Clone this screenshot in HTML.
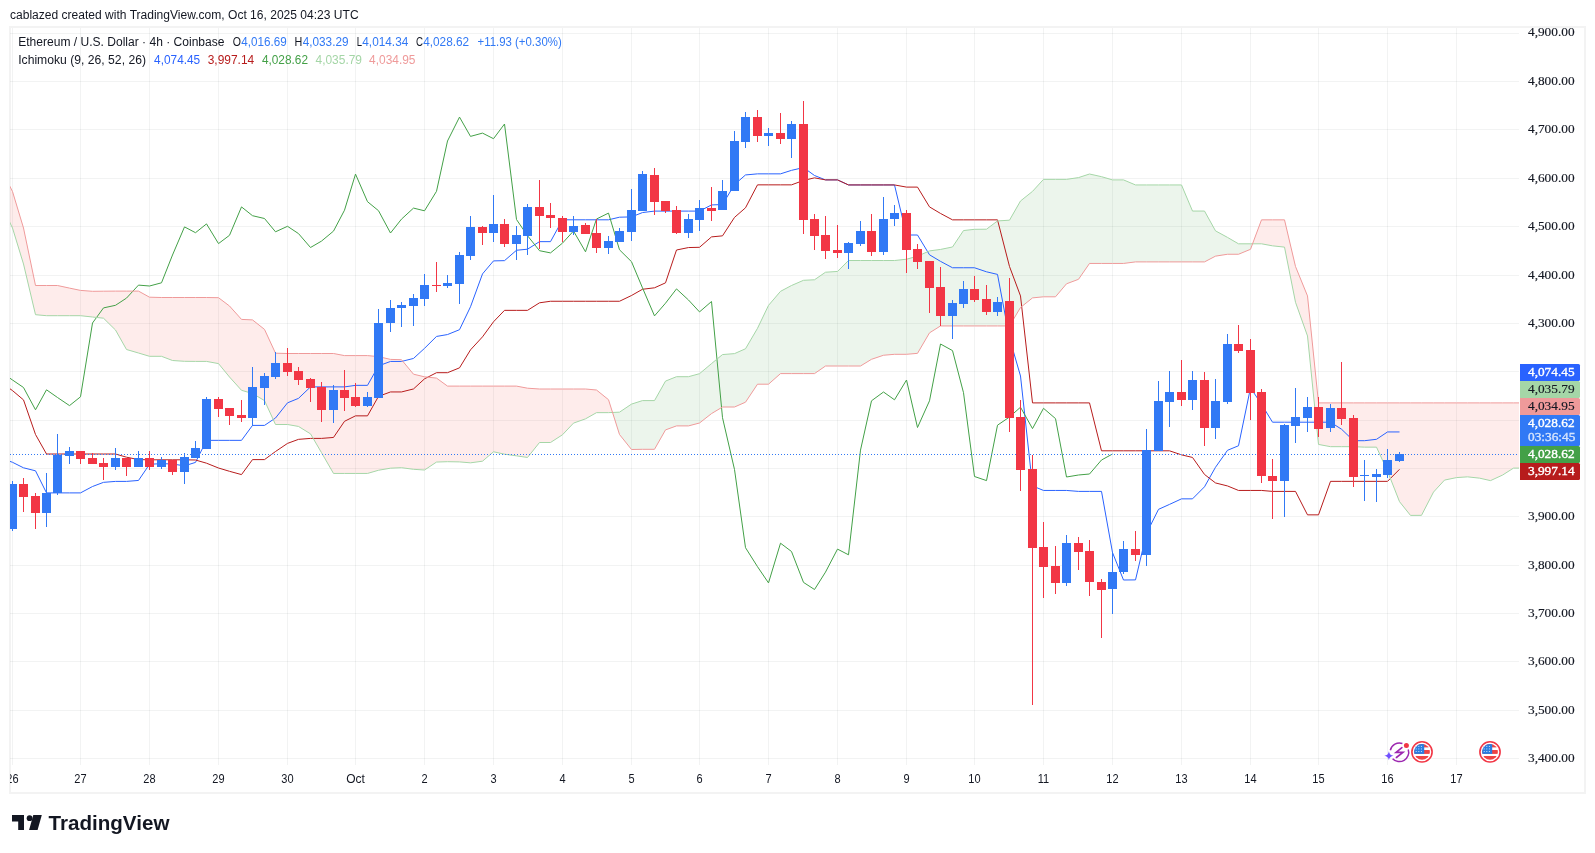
<!DOCTYPE html><html><head><meta charset="utf-8"><style>
html,body{margin:0;padding:0;background:#fff;}
body{width:1595px;height:853px;overflow:hidden;position:relative;font-family:"Liberation Sans",sans-serif;}
svg{position:absolute;left:0;top:0;will-change:transform;}
text{font-family:"Liberation Sans",sans-serif;} text.sf{font-family:"Liberation Serif",serif;}
</style></head><body>
<svg width="1595" height="853" viewBox="0 0 1595 853">
<defs><clipPath id="pane"><rect x="10" y="28" width="1509" height="737"/></clipPath></defs>
<text x="10" y="19" font-size="12" fill="#131722" textLength="348.6" lengthAdjust="spacingAndGlyphs">cablazed created with TradingView.com, Oct 16, 2025 04:23 UTC</text>
<rect x="9" y="26" width="1577" height="2" fill="#f3f3f3"/>
<rect x="9" y="792" width="1577" height="2" fill="#f3f3f3"/>
<rect x="9" y="26" width="2" height="768" fill="#f3f3f3"/>
<rect x="1584" y="26" width="2" height="768" fill="#f3f3f3"/>
<g clip-path="url(#pane)">
<rect x="10" y="33" width="1509" height="1" fill="rgba(42,46,57,0.06)"/>
<rect x="10" y="81" width="1509" height="1" fill="rgba(42,46,57,0.06)"/>
<rect x="10" y="129" width="1509" height="1" fill="rgba(42,46,57,0.06)"/>
<rect x="10" y="178" width="1509" height="1" fill="rgba(42,46,57,0.06)"/>
<rect x="10" y="226" width="1509" height="1" fill="rgba(42,46,57,0.06)"/>
<rect x="10" y="275" width="1509" height="1" fill="rgba(42,46,57,0.06)"/>
<rect x="10" y="323" width="1509" height="1" fill="rgba(42,46,57,0.06)"/>
<rect x="10" y="371" width="1509" height="1" fill="rgba(42,46,57,0.06)"/>
<rect x="10" y="420" width="1509" height="1" fill="rgba(42,46,57,0.06)"/>
<rect x="10" y="468" width="1509" height="1" fill="rgba(42,46,57,0.06)"/>
<rect x="10" y="516" width="1509" height="1" fill="rgba(42,46,57,0.06)"/>
<rect x="10" y="565" width="1509" height="1" fill="rgba(42,46,57,0.06)"/>
<rect x="10" y="613" width="1509" height="1" fill="rgba(42,46,57,0.06)"/>
<rect x="10" y="661" width="1509" height="1" fill="rgba(42,46,57,0.06)"/>
<rect x="10" y="710" width="1509" height="1" fill="rgba(42,46,57,0.06)"/>
<rect x="10" y="758" width="1509" height="1" fill="rgba(42,46,57,0.06)"/>
<rect x="12" y="28" width="1" height="737" fill="rgba(42,46,57,0.06)"/>
<rect x="80" y="28" width="1" height="737" fill="rgba(42,46,57,0.06)"/>
<rect x="149" y="28" width="1" height="737" fill="rgba(42,46,57,0.06)"/>
<rect x="218" y="28" width="1" height="737" fill="rgba(42,46,57,0.06)"/>
<rect x="287" y="28" width="1" height="737" fill="rgba(42,46,57,0.06)"/>
<rect x="355" y="28" width="1" height="737" fill="rgba(42,46,57,0.06)"/>
<rect x="424" y="28" width="1" height="737" fill="rgba(42,46,57,0.06)"/>
<rect x="493" y="28" width="1" height="737" fill="rgba(42,46,57,0.06)"/>
<rect x="562" y="28" width="1" height="737" fill="rgba(42,46,57,0.06)"/>
<rect x="631" y="28" width="1" height="737" fill="rgba(42,46,57,0.06)"/>
<rect x="699" y="28" width="1" height="737" fill="rgba(42,46,57,0.06)"/>
<rect x="768" y="28" width="1" height="737" fill="rgba(42,46,57,0.06)"/>
<rect x="837" y="28" width="1" height="737" fill="rgba(42,46,57,0.06)"/>
<rect x="906" y="28" width="1" height="737" fill="rgba(42,46,57,0.06)"/>
<rect x="974" y="28" width="1" height="737" fill="rgba(42,46,57,0.06)"/>
<rect x="1043" y="28" width="1" height="737" fill="rgba(42,46,57,0.06)"/>
<rect x="1112" y="28" width="1" height="737" fill="rgba(42,46,57,0.06)"/>
<rect x="1181" y="28" width="1" height="737" fill="rgba(42,46,57,0.06)"/>
<rect x="1250" y="28" width="1" height="737" fill="rgba(42,46,57,0.06)"/>
<rect x="1318" y="28" width="1" height="737" fill="rgba(42,46,57,0.06)"/>
<rect x="1387" y="28" width="1" height="737" fill="rgba(42,46,57,0.06)"/>
<rect x="1456" y="28" width="1" height="737" fill="rgba(42,46,57,0.06)"/>
<path d="M612.54,412.48 L619.50,412.17 L631.50,404.10 L642.50,400.60 L654.50,400.60 L665.50,381.10 L676.50,376.70 L688.50,376.70 L699.50,373.70 L711.50,363.60 L722.50,354.57 L734.50,353.62 L745.50,348.77 L757.50,328.30 L768.50,305.38 L780.50,291.35 L791.50,285.50 L803.50,280.30 L814.50,279.77 L825.50,272.23 L837.50,271.45 L848.50,260.52 L860.50,260.52 L871.50,260.52 L883.50,260.52 L894.50,260.52 L906.50,259.23 L917.50,256.20 L929.50,250.90 L940.50,249.45 L952.50,246.98 L963.50,230.55 L974.50,229.32 L986.50,229.20 L997.50,220.93 L1009.50,220.18 L1020.50,200.98 L1032.50,191.38 L1043.50,179.35 L1055.50,179.35 L1066.50,179.35 L1078.50,177.60 L1089.50,174.00 L1101.50,176.68 L1112.50,179.90 L1123.50,179.90 L1135.50,184.95 L1146.50,184.95 L1158.50,184.95 L1169.50,184.95 L1181.50,184.95 L1192.50,211.05 L1204.50,211.05 L1215.50,230.85 L1227.50,237.40 L1238.50,243.80 L1250.50,243.80 L1252.55,243.80 L1252.55,243.80 L1250.50,249.30 L1238.50,254.25 L1227.50,254.25 L1215.50,256.15 L1204.50,261.90 L1192.50,261.90 L1181.50,261.90 L1169.50,261.90 L1158.50,261.90 L1146.50,261.90 L1135.50,261.90 L1123.50,263.45 L1112.50,263.45 L1101.50,263.45 L1089.50,263.45 L1078.50,279.30 L1066.50,283.80 L1055.50,296.80 L1043.50,296.80 L1032.50,297.90 L1020.50,307.50 L1009.50,325.95 L997.50,325.95 L986.50,325.95 L974.50,325.95 L963.50,325.95 L952.50,325.95 L940.50,325.95 L929.50,332.85 L917.50,353.35 L906.50,354.30 L894.50,354.30 L883.50,355.25 L871.50,359.30 L860.50,366.00 L848.50,366.00 L837.50,366.00 L825.50,366.00 L814.50,373.60 L803.50,373.60 L791.50,373.60 L780.50,373.60 L768.50,384.20 L757.50,384.20 L745.50,402.20 L734.50,407.00 L722.50,407.00 L711.50,413.60 L699.50,423.00 L688.50,425.90 L676.50,425.90 L665.50,429.90 L654.50,449.30 L642.50,449.30 L631.50,449.50 L619.50,434.50 L612.54,412.48Z M1685.46,450.64 L1685.50,450.62 L1685.50,450.80 L1685.46,450.64Z" fill="rgba(67,160,71,0.1)"/>
<path d="M0.50,203.00 L12.50,228.00 L23.50,264.00 L35.50,314.70 L46.50,315.70 L57.50,315.70 L69.50,315.70 L80.50,315.70 L92.50,317.00 L103.50,318.20 L115.50,330.00 L126.50,349.50 L138.50,353.00 L149.50,356.30 L161.50,356.30 L172.50,360.50 L184.50,361.30 L195.50,361.40 L206.50,361.40 L218.50,363.60 L229.50,377.00 L241.50,390.30 L252.50,393.50 L264.50,400.60 L275.50,424.50 L287.50,424.50 L298.50,426.45 L310.50,433.85 L321.50,452.65 L333.50,473.45 L344.50,473.45 L355.50,473.45 L367.50,473.45 L378.50,470.25 L390.50,468.18 L401.50,467.70 L413.50,469.30 L424.50,470.02 L436.50,462.05 L447.50,461.70 L459.50,461.90 L470.50,462.83 L482.50,461.20 L493.50,451.77 L504.50,454.18 L516.50,455.83 L527.50,457.48 L539.50,442.50 L550.50,442.50 L562.50,434.75 L573.50,423.12 L585.50,418.85 L596.50,412.65 L608.50,412.65 L612.54,412.48 L612.54,412.48 L608.50,399.70 L596.50,390.00 L585.50,389.00 L573.50,389.00 L562.50,389.00 L550.50,389.00 L539.50,389.00 L527.50,388.20 L516.50,386.10 L504.50,386.10 L493.50,386.10 L482.50,386.10 L470.50,386.10 L459.50,386.10 L447.50,386.10 L436.50,378.10 L424.50,376.80 L413.50,374.20 L401.50,359.70 L390.50,359.40 L378.50,356.60 L367.50,355.60 L355.50,355.60 L344.50,355.60 L333.50,353.50 L321.50,353.50 L310.50,353.50 L298.50,353.50 L287.50,353.50 L275.50,353.20 L264.50,329.40 L252.50,319.90 L241.50,319.40 L229.50,306.00 L218.50,297.70 L206.50,297.50 L195.50,297.50 L184.50,297.50 L172.50,297.50 L161.50,297.50 L149.50,297.20 L138.50,291.10 L126.50,291.10 L115.50,291.10 L103.50,291.20 L92.50,291.30 L80.50,290.40 L69.50,288.10 L57.50,285.50 L46.50,285.50 L35.50,285.50 L23.50,228.00 L12.50,191.50 L0.50,168.00Z M1252.55,243.80 L1261.50,243.80 L1272.50,245.83 L1284.50,247.12 L1295.50,302.27 L1307.50,335.98 L1318.50,444.43 L1330.50,446.68 L1341.50,446.68 L1353.50,446.68 L1364.50,447.15 L1376.50,447.15 L1387.50,471.10 L1399.50,501.67 L1410.50,515.40 L1421.50,515.35 L1433.50,492.08 L1444.50,480.08 L1456.50,477.60 L1467.50,476.85 L1479.50,478.15 L1490.50,480.62 L1502.50,475.10 L1513.50,468.12 L1525.50,468.10 L1536.50,439.15 L1548.50,447.33 L1559.50,456.80 L1571.50,456.80 L1582.50,456.80 L1593.50,468.52 L1605.50,468.52 L1616.50,451.77 L1628.50,455.27 L1639.50,461.02 L1651.50,461.02 L1662.50,460.33 L1674.50,456.65 L1685.46,450.64 L1685.46,450.64 L1674.50,402.90 L1662.50,402.90 L1651.50,402.90 L1639.50,402.90 L1628.50,402.90 L1616.50,402.90 L1605.50,402.90 L1593.50,402.90 L1582.50,402.90 L1571.50,402.90 L1559.50,402.90 L1548.50,402.90 L1536.50,402.90 L1525.50,402.90 L1513.50,402.90 L1502.50,402.90 L1490.50,402.90 L1479.50,402.90 L1467.50,402.90 L1456.50,402.90 L1444.50,402.90 L1433.50,402.90 L1421.50,402.90 L1410.50,402.90 L1399.50,402.90 L1387.50,402.90 L1376.50,402.90 L1364.50,402.90 L1353.50,402.90 L1341.50,402.90 L1330.50,402.90 L1318.50,402.90 L1307.50,295.95 L1295.50,266.50 L1284.50,219.85 L1272.50,219.85 L1261.50,219.85 L1252.55,243.80Z" fill="rgba(244,67,54,0.1)"/>
<polyline points="0.5,458.00 12.5,462.30 23.5,467.80 35.5,470.80 46.5,492.90 57.5,492.90 69.5,492.90 80.5,492.90 92.5,486.50 103.5,482.35 115.5,481.40 126.5,481.40 138.5,480.45 149.5,464.30 161.5,463.60 172.5,464.00 184.5,465.85 195.5,462.40 206.5,440.35 218.5,440.35 229.5,440.35 241.5,440.35 252.5,425.40 264.5,425.40 275.5,418.00 287.5,402.85 298.5,398.35 310.5,386.90 321.5,386.90 333.5,386.90 344.5,386.90 355.5,385.35 367.5,385.35 378.5,365.85 390.5,361.45 401.5,361.45 413.5,358.45 424.5,348.35 436.5,336.45 447.5,334.55 459.5,329.70 470.5,306.75 482.5,273.90 493.5,260.90 504.5,260.65 516.5,250.25 527.5,249.20 539.5,241.65 550.5,241.65 562.5,219.80 573.5,219.80 585.5,219.80 596.5,219.80 608.5,219.80 619.5,217.20 631.5,216.90 642.5,212.55 654.5,211.10 665.5,211.10 676.5,211.10 688.5,211.10 699.5,211.10 711.5,204.95 722.5,204.50 734.5,184.55 745.5,174.95 757.5,173.85 768.5,173.85 780.5,173.85 791.5,170.35 803.5,167.55 814.5,175.50 825.5,179.90 837.5,179.90 848.5,184.95 860.5,184.95 871.5,184.95 883.5,184.95 894.5,184.95 906.5,235.00 917.5,235.00 929.5,254.80 940.5,261.35 952.5,267.75 963.5,267.75 974.5,267.75 986.5,271.80 997.5,274.40 1009.5,338.05 1020.5,376.00 1032.5,485.95 1043.5,490.45 1055.5,490.45 1066.5,490.45 1078.5,491.40 1089.5,491.40 1101.5,491.40 1112.5,552.55 1123.5,580.00 1135.5,579.90 1146.5,533.35 1158.5,509.35 1169.5,504.40 1181.5,498.85 1192.5,498.85 1204.5,486.80 1215.5,467.25 1227.5,450.30 1238.5,445.75 1250.5,387.85 1261.5,404.20 1272.5,422.20 1284.5,422.20 1295.5,422.20 1307.5,422.20 1318.5,422.20 1330.5,422.20 1341.5,429.20 1353.5,440.70 1364.5,440.70 1376.5,439.30 1387.5,431.95 1399.5,431.95" fill="none" stroke="#2962FF" stroke-width="1.0" stroke-linejoin="round"/>
<polyline points="0.5,382.00 12.5,390.60 23.5,399.90 35.5,434.50 46.5,454.00 57.5,454.00 69.5,454.00 80.5,454.00 92.5,454.00 103.5,454.00 115.5,454.00 126.5,457.20 138.5,459.60 149.5,459.80 161.5,459.80 172.5,459.80 184.5,459.80 195.5,460.00 206.5,463.20 218.5,468.00 229.5,471.30 241.5,474.60 252.5,459.60 264.5,459.60 275.5,451.50 287.5,443.40 298.5,439.35 310.5,438.40 321.5,438.40 333.5,437.45 344.5,421.30 355.5,415.85 367.5,415.85 378.5,396.35 390.5,391.95 401.5,391.95 413.5,388.95 424.5,378.85 436.5,372.70 447.5,372.70 459.5,367.85 470.5,349.85 482.5,336.85 493.5,321.80 504.5,310.35 516.5,310.35 527.5,310.35 539.5,302.80 550.5,301.25 562.5,301.25 573.5,301.25 585.5,301.25 596.5,301.25 608.5,301.25 619.5,301.25 631.5,295.50 642.5,289.25 654.5,287.80 665.5,282.85 676.5,250.00 688.5,247.55 699.5,247.30 711.5,236.90 722.5,235.85 734.5,217.40 745.5,207.80 757.5,184.85 768.5,184.85 780.5,184.85 791.5,184.85 803.5,180.45 814.5,177.85 825.5,179.90 837.5,179.90 848.5,184.95 860.5,184.95 871.5,184.95 883.5,184.95 894.5,184.95 906.5,187.10 917.5,187.10 929.5,206.90 940.5,213.45 952.5,219.85 963.5,219.85 974.5,219.85 986.5,219.85 997.5,219.85 1009.5,266.50 1020.5,295.95 1032.5,402.90 1043.5,402.90 1055.5,402.90 1066.5,402.90 1078.5,402.90 1089.5,402.90 1101.5,450.80 1112.5,450.80 1123.5,450.80 1135.5,450.80 1146.5,450.80 1158.5,450.80 1169.5,450.80 1181.5,454.85 1192.5,457.45 1204.5,474.45 1215.5,482.95 1227.5,485.95 1238.5,490.45 1250.5,490.45 1261.5,490.45 1272.5,491.40 1284.5,491.40 1295.5,491.40 1307.5,514.85 1318.5,514.85 1330.5,481.35 1341.5,481.35 1353.5,481.35 1364.5,481.35 1376.5,481.35 1387.5,481.35 1399.5,469.30" fill="none" stroke="#B71C1C" stroke-width="1.0" stroke-linejoin="round"/>
<polyline points="0.5,371.60 12.5,380.00 23.5,387.50 35.5,409.80 46.5,389.80 57.5,397.50 69.5,405.60 80.5,396.80 92.5,323.00 103.5,307.90 115.5,305.30 126.5,298.10 138.5,285.10 149.5,286.00 161.5,282.80 172.5,255.00 184.5,226.90 195.5,232.70 206.5,223.90 218.5,243.60 229.5,235.30 241.5,206.90 252.5,215.70 264.5,218.50 275.5,231.80 287.5,226.30 298.5,233.60 310.5,247.50 321.5,241.10 333.5,231.10 344.5,210.20 355.5,174.10 367.5,201.70 378.5,210.70 390.5,233.00 401.5,219.10 413.5,208.10 424.5,210.80 436.5,191.30 447.5,141.00 459.5,117.10 470.5,136.40 482.5,133.10 493.5,138.70 504.5,124.00 516.5,219.50 527.5,235.70 539.5,250.70 550.5,252.90 562.5,243.10 573.5,231.00 585.5,251.80 596.5,219.00 608.5,213.10 619.5,249.80 631.5,261.70 642.5,287.90 654.5,315.90 665.5,303.20 676.5,288.90 688.5,300.00 699.5,311.90 711.5,301.50 722.5,417.70 734.5,469.50 745.5,547.70 757.5,566.70 768.5,582.90 780.5,543.20 791.5,551.50 803.5,582.40 814.5,589.50 825.5,572.10 837.5,549.10 848.5,554.80 860.5,450.10 871.5,400.80 883.5,392.00 894.5,399.80 906.5,380.00 917.5,427.50 929.5,400.80 940.5,344.00 952.5,350.60 963.5,392.70 974.5,476.50 986.5,480.60 997.5,425.20 1009.5,417.00 1020.5,407.20 1032.5,428.60 1043.5,408.30 1055.5,418.60 1066.5,477.00 1078.5,475.00 1089.5,474.00 1101.5,460.00 1112.5,454.00" fill="none" stroke="#43A047" stroke-width="1.0" stroke-linejoin="round"/>
<polyline points="0.5,203.00 12.5,228.00 23.5,264.00 35.5,314.70 46.5,315.70 57.5,315.70 69.5,315.70 80.5,315.70 92.5,317.00 103.5,318.20 115.5,330.00 126.5,349.50 138.5,353.00 149.5,356.30 161.5,356.30 172.5,360.50 184.5,361.30 195.5,361.40 206.5,361.40 218.5,363.60 229.5,377.00 241.5,390.30 252.5,393.50 264.5,400.60 275.5,424.50 287.5,424.50 298.5,426.45 310.5,433.85 321.5,452.65 333.5,473.45 344.5,473.45 355.5,473.45 367.5,473.45 378.5,470.25 390.5,468.18 401.5,467.70 413.5,469.30 424.5,470.02 436.5,462.05 447.5,461.70 459.5,461.90 470.5,462.83 482.5,461.20 493.5,451.77 504.5,454.18 516.5,455.83 527.5,457.48 539.5,442.50 550.5,442.50 562.5,434.75 573.5,423.12 585.5,418.85 596.5,412.65 608.5,412.65 619.5,412.17 631.5,404.10 642.5,400.60 654.5,400.60 665.5,381.10 676.5,376.70 688.5,376.70 699.5,373.70 711.5,363.60 722.5,354.57 734.5,353.62 745.5,348.77 757.5,328.30 768.5,305.38 780.5,291.35 791.5,285.50 803.5,280.30 814.5,279.77 825.5,272.23 837.5,271.45 848.5,260.52 860.5,260.52 871.5,260.52 883.5,260.52 894.5,260.52 906.5,259.23 917.5,256.20 929.5,250.90 940.5,249.45 952.5,246.98 963.5,230.55 974.5,229.32 986.5,229.20 997.5,220.93 1009.5,220.18 1020.5,200.98 1032.5,191.38 1043.5,179.35 1055.5,179.35 1066.5,179.35 1078.5,177.60 1089.5,174.00 1101.5,176.68 1112.5,179.90 1123.5,179.90 1135.5,184.95 1146.5,184.95 1158.5,184.95 1169.5,184.95 1181.5,184.95 1192.5,211.05 1204.5,211.05 1215.5,230.85 1227.5,237.40 1238.5,243.80 1250.5,243.80 1261.5,243.80 1272.5,245.83 1284.5,247.12 1295.5,302.27 1307.5,335.98 1318.5,444.43 1330.5,446.68 1341.5,446.68 1353.5,446.68 1364.5,447.15 1376.5,447.15 1387.5,471.10 1399.5,501.67 1410.5,515.40 1421.5,515.35 1433.5,492.08 1444.5,480.08 1456.5,477.60 1467.5,476.85 1479.5,478.15 1490.5,480.62 1502.5,475.10 1513.5,468.12 1525.5,468.10 1536.5,439.15 1548.5,447.33 1559.5,456.80 1571.5,456.80 1582.5,456.80 1593.5,468.52 1605.5,468.52 1616.5,451.77 1628.5,455.27 1639.5,461.02 1651.5,461.02 1662.5,460.33 1674.5,456.65 1685.5,450.62" fill="none" stroke="#A5D6A7" stroke-width="1.0" stroke-linejoin="round"/>
<polyline points="0.5,168.00 12.5,191.50 23.5,228.00 35.5,285.50 46.5,285.50 57.5,285.50 69.5,288.10 80.5,290.40 92.5,291.30 103.5,291.20 115.5,291.10 126.5,291.10 138.5,291.10 149.5,297.20 161.5,297.50 172.5,297.50 184.5,297.50 195.5,297.50 206.5,297.50 218.5,297.70 229.5,306.00 241.5,319.40 252.5,319.90 264.5,329.40 275.5,353.20 287.5,353.50 298.5,353.50 310.5,353.50 321.5,353.50 333.5,353.50 344.5,355.60 355.5,355.60 367.5,355.60 378.5,356.60 390.5,359.40 401.5,359.70 413.5,374.20 424.5,376.80 436.5,378.10 447.5,386.10 459.5,386.10 470.5,386.10 482.5,386.10 493.5,386.10 504.5,386.10 516.5,386.10 527.5,388.20 539.5,389.00 550.5,389.00 562.5,389.00 573.5,389.00 585.5,389.00 596.5,390.00 608.5,399.70 619.5,434.50 631.5,449.50 642.5,449.30 654.5,449.30 665.5,429.90 676.5,425.90 688.5,425.90 699.5,423.00 711.5,413.60 722.5,407.00 734.5,407.00 745.5,402.20 757.5,384.20 768.5,384.20 780.5,373.60 791.5,373.60 803.5,373.60 814.5,373.60 825.5,366.00 837.5,366.00 848.5,366.00 860.5,366.00 871.5,359.30 883.5,355.25 894.5,354.30 906.5,354.30 917.5,353.35 929.5,332.85 940.5,325.95 952.5,325.95 963.5,325.95 974.5,325.95 986.5,325.95 997.5,325.95 1009.5,325.95 1020.5,307.50 1032.5,297.90 1043.5,296.80 1055.5,296.80 1066.5,283.80 1078.5,279.30 1089.5,263.45 1101.5,263.45 1112.5,263.45 1123.5,263.45 1135.5,261.90 1146.5,261.90 1158.5,261.90 1169.5,261.90 1181.5,261.90 1192.5,261.90 1204.5,261.90 1215.5,256.15 1227.5,254.25 1238.5,254.25 1250.5,249.30 1261.5,219.85 1272.5,219.85 1284.5,219.85 1295.5,266.50 1307.5,295.95 1318.5,402.90 1330.5,402.90 1341.5,402.90 1353.5,402.90 1364.5,402.90 1376.5,402.90 1387.5,402.90 1399.5,402.90 1410.5,402.90 1421.5,402.90 1433.5,402.90 1444.5,402.90 1456.5,402.90 1467.5,402.90 1479.5,402.90 1490.5,402.90 1502.5,402.90 1513.5,402.90 1525.5,402.90 1536.5,402.90 1548.5,402.90 1559.5,402.90 1571.5,402.90 1582.5,402.90 1593.5,402.90 1605.5,402.90 1616.5,402.90 1628.5,402.90 1639.5,402.90 1651.5,402.90 1662.5,402.90 1674.5,402.90 1685.5,450.80" fill="none" stroke="#EF9A9A" stroke-width="1.0" stroke-linejoin="round"/>
<line x1="10" y1="454.5" x2="1519" y2="454.5" stroke="#3179F5" stroke-width="1" stroke-dasharray="1 2"/>
<rect x="12" y="481" width="1" height="50" fill="#3179F5"/>
<rect x="8" y="484" width="9" height="45" fill="#3179F5"/>
<rect x="23" y="478" width="1" height="34" fill="#F23645"/>
<rect x="19" y="484" width="9" height="13" fill="#F23645"/>
<rect x="35" y="493" width="1" height="36" fill="#F23645"/>
<rect x="31" y="496" width="9" height="17" fill="#F23645"/>
<rect x="46" y="473" width="1" height="54" fill="#3179F5"/>
<rect x="42" y="493" width="9" height="20" fill="#3179F5"/>
<rect x="57" y="434" width="1" height="61" fill="#3179F5"/>
<rect x="53" y="455" width="9" height="38" fill="#3179F5"/>
<rect x="69" y="447" width="1" height="17" fill="#3179F5"/>
<rect x="65" y="451" width="9" height="5" fill="#3179F5"/>
<rect x="80" y="451" width="1" height="13" fill="#F23645"/>
<rect x="76" y="451" width="9" height="8" fill="#F23645"/>
<rect x="92" y="453" width="1" height="11" fill="#F23645"/>
<rect x="88" y="458" width="9" height="6" fill="#F23645"/>
<rect x="103" y="458" width="1" height="22" fill="#F23645"/>
<rect x="99" y="463" width="9" height="4" fill="#F23645"/>
<rect x="115" y="448" width="1" height="22" fill="#3179F5"/>
<rect x="111" y="458" width="9" height="9" fill="#3179F5"/>
<rect x="126" y="458" width="1" height="18" fill="#F23645"/>
<rect x="122" y="458" width="9" height="9" fill="#F23645"/>
<rect x="138" y="451" width="1" height="16" fill="#3179F5"/>
<rect x="134" y="458" width="9" height="9" fill="#3179F5"/>
<rect x="149" y="451" width="1" height="19" fill="#F23645"/>
<rect x="145" y="458" width="9" height="9" fill="#F23645"/>
<rect x="161" y="457" width="1" height="12" fill="#3179F5"/>
<rect x="157" y="460" width="9" height="7" fill="#3179F5"/>
<rect x="172" y="460" width="1" height="15" fill="#F23645"/>
<rect x="168" y="460" width="9" height="12" fill="#F23645"/>
<rect x="184" y="453" width="1" height="31" fill="#3179F5"/>
<rect x="180" y="457" width="9" height="15" fill="#3179F5"/>
<rect x="195" y="441" width="1" height="17" fill="#3179F5"/>
<rect x="191" y="448" width="9" height="10" fill="#3179F5"/>
<rect x="206" y="397" width="1" height="52" fill="#3179F5"/>
<rect x="202" y="399" width="9" height="50" fill="#3179F5"/>
<rect x="218" y="397" width="1" height="20" fill="#F23645"/>
<rect x="214" y="399" width="9" height="10" fill="#F23645"/>
<rect x="229" y="408" width="1" height="17" fill="#F23645"/>
<rect x="225" y="408" width="9" height="8" fill="#F23645"/>
<rect x="241" y="400" width="1" height="22" fill="#F23645"/>
<rect x="237" y="415" width="9" height="3" fill="#F23645"/>
<rect x="252" y="367" width="1" height="59" fill="#3179F5"/>
<rect x="248" y="387" width="9" height="31" fill="#3179F5"/>
<rect x="264" y="373" width="1" height="32" fill="#3179F5"/>
<rect x="260" y="376" width="9" height="12" fill="#3179F5"/>
<rect x="275" y="352" width="1" height="27" fill="#3179F5"/>
<rect x="271" y="363" width="9" height="14" fill="#3179F5"/>
<rect x="287" y="348" width="1" height="28" fill="#F23645"/>
<rect x="283" y="363" width="9" height="9" fill="#F23645"/>
<rect x="298" y="367" width="1" height="18" fill="#F23645"/>
<rect x="294" y="371" width="9" height="9" fill="#F23645"/>
<rect x="310" y="378" width="1" height="24" fill="#F23645"/>
<rect x="306" y="379" width="9" height="9" fill="#F23645"/>
<rect x="321" y="382" width="1" height="40" fill="#F23645"/>
<rect x="317" y="387" width="9" height="23" fill="#F23645"/>
<rect x="333" y="385" width="1" height="38" fill="#3179F5"/>
<rect x="329" y="390" width="9" height="20" fill="#3179F5"/>
<rect x="344" y="370" width="1" height="41" fill="#F23645"/>
<rect x="340" y="390" width="9" height="8" fill="#F23645"/>
<rect x="355" y="383" width="1" height="24" fill="#F23645"/>
<rect x="351" y="397" width="9" height="9" fill="#F23645"/>
<rect x="367" y="392" width="1" height="15" fill="#3179F5"/>
<rect x="363" y="397" width="9" height="9" fill="#3179F5"/>
<rect x="378" y="309" width="1" height="89" fill="#3179F5"/>
<rect x="374" y="323" width="9" height="75" fill="#3179F5"/>
<rect x="390" y="300" width="1" height="32" fill="#3179F5"/>
<rect x="386" y="308" width="9" height="15" fill="#3179F5"/>
<rect x="401" y="302" width="1" height="25" fill="#3179F5"/>
<rect x="397" y="305" width="9" height="3" fill="#3179F5"/>
<rect x="413" y="294" width="1" height="32" fill="#3179F5"/>
<rect x="409" y="298" width="9" height="8" fill="#3179F5"/>
<rect x="424" y="274" width="1" height="32" fill="#3179F5"/>
<rect x="420" y="285" width="9" height="14" fill="#3179F5"/>
<rect x="436" y="262" width="1" height="30" fill="#F23645"/>
<rect x="432" y="285" width="9" height="1" fill="#F23645"/>
<rect x="447" y="275" width="1" height="13" fill="#3179F5"/>
<rect x="443" y="283" width="9" height="3" fill="#3179F5"/>
<rect x="459" y="252" width="1" height="52" fill="#3179F5"/>
<rect x="455" y="255" width="9" height="29" fill="#3179F5"/>
<rect x="470" y="216" width="1" height="44" fill="#3179F5"/>
<rect x="466" y="227" width="9" height="29" fill="#3179F5"/>
<rect x="482" y="226" width="1" height="19" fill="#F23645"/>
<rect x="478" y="227" width="9" height="6" fill="#F23645"/>
<rect x="493" y="195" width="1" height="47" fill="#3179F5"/>
<rect x="489" y="224" width="9" height="9" fill="#3179F5"/>
<rect x="504" y="219" width="1" height="28" fill="#F23645"/>
<rect x="500" y="224" width="9" height="20" fill="#F23645"/>
<rect x="516" y="226" width="1" height="34" fill="#3179F5"/>
<rect x="512" y="235" width="9" height="9" fill="#3179F5"/>
<rect x="527" y="204" width="1" height="51" fill="#3179F5"/>
<rect x="523" y="207" width="9" height="29" fill="#3179F5"/>
<rect x="539" y="180" width="1" height="69" fill="#F23645"/>
<rect x="535" y="207" width="9" height="9" fill="#F23645"/>
<rect x="550" y="203" width="1" height="25" fill="#F23645"/>
<rect x="546" y="215" width="9" height="3" fill="#F23645"/>
<rect x="562" y="216" width="1" height="26" fill="#F23645"/>
<rect x="558" y="218" width="9" height="14" fill="#F23645"/>
<rect x="573" y="216" width="1" height="19" fill="#3179F5"/>
<rect x="569" y="226" width="9" height="6" fill="#3179F5"/>
<rect x="585" y="223" width="1" height="11" fill="#F23645"/>
<rect x="581" y="225" width="9" height="9" fill="#F23645"/>
<rect x="596" y="219" width="1" height="34" fill="#F23645"/>
<rect x="592" y="233" width="9" height="15" fill="#F23645"/>
<rect x="608" y="236" width="1" height="18" fill="#3179F5"/>
<rect x="604" y="241" width="9" height="7" fill="#3179F5"/>
<rect x="619" y="228" width="1" height="14" fill="#3179F5"/>
<rect x="615" y="231" width="9" height="11" fill="#3179F5"/>
<rect x="631" y="189" width="1" height="52" fill="#3179F5"/>
<rect x="627" y="210" width="9" height="22" fill="#3179F5"/>
<rect x="642" y="171" width="1" height="40" fill="#3179F5"/>
<rect x="638" y="174" width="9" height="37" fill="#3179F5"/>
<rect x="654" y="168" width="1" height="47" fill="#F23645"/>
<rect x="650" y="175" width="9" height="27" fill="#F23645"/>
<rect x="665" y="201" width="1" height="12" fill="#F23645"/>
<rect x="661" y="201" width="9" height="10" fill="#F23645"/>
<rect x="676" y="206" width="1" height="28" fill="#F23645"/>
<rect x="672" y="210" width="9" height="23" fill="#F23645"/>
<rect x="688" y="214" width="1" height="24" fill="#3179F5"/>
<rect x="684" y="219" width="9" height="14" fill="#3179F5"/>
<rect x="699" y="200" width="1" height="31" fill="#3179F5"/>
<rect x="695" y="208" width="9" height="12" fill="#3179F5"/>
<rect x="711" y="187" width="1" height="34" fill="#F23645"/>
<rect x="707" y="208" width="9" height="3" fill="#F23645"/>
<rect x="722" y="180" width="1" height="30" fill="#3179F5"/>
<rect x="718" y="191" width="9" height="19" fill="#3179F5"/>
<rect x="734" y="131" width="1" height="60" fill="#3179F5"/>
<rect x="730" y="141" width="9" height="50" fill="#3179F5"/>
<rect x="745" y="112" width="1" height="36" fill="#3179F5"/>
<rect x="741" y="117" width="9" height="25" fill="#3179F5"/>
<rect x="757" y="110" width="1" height="32" fill="#F23645"/>
<rect x="753" y="117" width="9" height="19" fill="#F23645"/>
<rect x="768" y="128" width="1" height="18" fill="#3179F5"/>
<rect x="764" y="133" width="9" height="3" fill="#3179F5"/>
<rect x="780" y="113" width="1" height="31" fill="#F23645"/>
<rect x="776" y="133" width="9" height="6" fill="#F23645"/>
<rect x="791" y="121" width="1" height="37" fill="#3179F5"/>
<rect x="787" y="124" width="9" height="15" fill="#3179F5"/>
<rect x="803" y="101" width="1" height="133" fill="#F23645"/>
<rect x="799" y="124" width="9" height="96" fill="#F23645"/>
<rect x="814" y="214" width="1" height="36" fill="#F23645"/>
<rect x="810" y="219" width="9" height="17" fill="#F23645"/>
<rect x="825" y="216" width="1" height="43" fill="#F23645"/>
<rect x="821" y="235" width="9" height="16" fill="#F23645"/>
<rect x="837" y="225" width="1" height="33" fill="#F23645"/>
<rect x="833" y="250" width="9" height="3" fill="#F23645"/>
<rect x="848" y="242" width="1" height="27" fill="#3179F5"/>
<rect x="844" y="243" width="9" height="10" fill="#3179F5"/>
<rect x="860" y="221" width="1" height="25" fill="#3179F5"/>
<rect x="856" y="231" width="9" height="13" fill="#3179F5"/>
<rect x="871" y="214" width="1" height="42" fill="#F23645"/>
<rect x="867" y="231" width="9" height="21" fill="#F23645"/>
<rect x="883" y="197" width="1" height="58" fill="#3179F5"/>
<rect x="879" y="219" width="9" height="33" fill="#3179F5"/>
<rect x="894" y="205" width="1" height="21" fill="#3179F5"/>
<rect x="890" y="213" width="9" height="6" fill="#3179F5"/>
<rect x="906" y="210" width="1" height="63" fill="#F23645"/>
<rect x="902" y="213" width="9" height="37" fill="#F23645"/>
<rect x="917" y="244" width="1" height="25" fill="#F23645"/>
<rect x="913" y="249" width="9" height="13" fill="#F23645"/>
<rect x="929" y="261" width="1" height="52" fill="#F23645"/>
<rect x="925" y="261" width="9" height="27" fill="#F23645"/>
<rect x="940" y="267" width="1" height="59" fill="#F23645"/>
<rect x="936" y="287" width="9" height="29" fill="#F23645"/>
<rect x="952" y="300" width="1" height="39" fill="#3179F5"/>
<rect x="948" y="303" width="9" height="13" fill="#3179F5"/>
<rect x="963" y="281" width="1" height="27" fill="#3179F5"/>
<rect x="959" y="289" width="9" height="15" fill="#3179F5"/>
<rect x="974" y="276" width="1" height="26" fill="#F23645"/>
<rect x="970" y="289" width="9" height="11" fill="#F23645"/>
<rect x="986" y="285" width="1" height="30" fill="#F23645"/>
<rect x="982" y="299" width="9" height="13" fill="#F23645"/>
<rect x="997" y="297" width="1" height="19" fill="#3179F5"/>
<rect x="993" y="302" width="9" height="10" fill="#3179F5"/>
<rect x="1009" y="278" width="1" height="154" fill="#F23645"/>
<rect x="1005" y="301" width="9" height="117" fill="#F23645"/>
<rect x="1020" y="400" width="1" height="91" fill="#F23645"/>
<rect x="1016" y="417" width="9" height="53" fill="#F23645"/>
<rect x="1032" y="455" width="1" height="250" fill="#F23645"/>
<rect x="1028" y="469" width="9" height="79" fill="#F23645"/>
<rect x="1043" y="522" width="1" height="76" fill="#F23645"/>
<rect x="1039" y="547" width="9" height="20" fill="#F23645"/>
<rect x="1055" y="546" width="1" height="48" fill="#F23645"/>
<rect x="1051" y="566" width="9" height="17" fill="#F23645"/>
<rect x="1066" y="535" width="1" height="51" fill="#3179F5"/>
<rect x="1062" y="543" width="9" height="40" fill="#3179F5"/>
<rect x="1078" y="537" width="1" height="33" fill="#F23645"/>
<rect x="1074" y="543" width="9" height="9" fill="#F23645"/>
<rect x="1089" y="540" width="1" height="56" fill="#F23645"/>
<rect x="1085" y="551" width="9" height="31" fill="#F23645"/>
<rect x="1101" y="579" width="1" height="59" fill="#F23645"/>
<rect x="1097" y="582" width="9" height="8" fill="#F23645"/>
<rect x="1112" y="552" width="1" height="62" fill="#3179F5"/>
<rect x="1108" y="572" width="9" height="17" fill="#3179F5"/>
<rect x="1123" y="541" width="1" height="33" fill="#3179F5"/>
<rect x="1119" y="549" width="9" height="23" fill="#3179F5"/>
<rect x="1135" y="531" width="1" height="30" fill="#F23645"/>
<rect x="1131" y="549" width="9" height="6" fill="#F23645"/>
<rect x="1146" y="429" width="1" height="137" fill="#3179F5"/>
<rect x="1142" y="450" width="9" height="105" fill="#3179F5"/>
<rect x="1158" y="381" width="1" height="70" fill="#3179F5"/>
<rect x="1154" y="401" width="9" height="50" fill="#3179F5"/>
<rect x="1169" y="371" width="1" height="56" fill="#3179F5"/>
<rect x="1165" y="392" width="9" height="10" fill="#3179F5"/>
<rect x="1181" y="360" width="1" height="46" fill="#F23645"/>
<rect x="1177" y="392" width="9" height="8" fill="#F23645"/>
<rect x="1192" y="371" width="1" height="39" fill="#3179F5"/>
<rect x="1188" y="380" width="9" height="20" fill="#3179F5"/>
<rect x="1204" y="372" width="1" height="74" fill="#F23645"/>
<rect x="1200" y="380" width="9" height="48" fill="#F23645"/>
<rect x="1215" y="379" width="1" height="60" fill="#3179F5"/>
<rect x="1211" y="401" width="9" height="27" fill="#3179F5"/>
<rect x="1227" y="334" width="1" height="70" fill="#3179F5"/>
<rect x="1223" y="344" width="9" height="58" fill="#3179F5"/>
<rect x="1238" y="325" width="1" height="28" fill="#F23645"/>
<rect x="1234" y="344" width="9" height="7" fill="#F23645"/>
<rect x="1250" y="339" width="1" height="81" fill="#F23645"/>
<rect x="1246" y="350" width="9" height="43" fill="#F23645"/>
<rect x="1261" y="389" width="1" height="94" fill="#F23645"/>
<rect x="1257" y="392" width="9" height="84" fill="#F23645"/>
<rect x="1272" y="459" width="1" height="60" fill="#F23645"/>
<rect x="1268" y="476" width="9" height="5" fill="#F23645"/>
<rect x="1284" y="424" width="1" height="93" fill="#3179F5"/>
<rect x="1280" y="425" width="9" height="56" fill="#3179F5"/>
<rect x="1295" y="388" width="1" height="55" fill="#3179F5"/>
<rect x="1291" y="417" width="9" height="9" fill="#3179F5"/>
<rect x="1307" y="397" width="1" height="35" fill="#3179F5"/>
<rect x="1303" y="407" width="9" height="11" fill="#3179F5"/>
<rect x="1318" y="397" width="1" height="40" fill="#F23645"/>
<rect x="1314" y="407" width="9" height="22" fill="#F23645"/>
<rect x="1330" y="404" width="1" height="28" fill="#3179F5"/>
<rect x="1326" y="408" width="9" height="20" fill="#3179F5"/>
<rect x="1341" y="362" width="1" height="63" fill="#F23645"/>
<rect x="1337" y="408" width="9" height="11" fill="#F23645"/>
<rect x="1353" y="415" width="1" height="72" fill="#F23645"/>
<rect x="1349" y="418" width="9" height="59" fill="#F23645"/>
<rect x="1364" y="460" width="1" height="41" fill="#3179F5"/>
<rect x="1360" y="475" width="9" height="1" fill="#3179F5"/>
<rect x="1376" y="469" width="1" height="33" fill="#3179F5"/>
<rect x="1372" y="474" width="9" height="3" fill="#3179F5"/>
<rect x="1387" y="449" width="1" height="29" fill="#3179F5"/>
<rect x="1383" y="460" width="9" height="15" fill="#3179F5"/>
<rect x="1399" y="452" width="1" height="10" fill="#3179F5"/>
<rect x="1395" y="454" width="9" height="7" fill="#3179F5"/>
</g>
<text x="1528" y="36" class="sf" font-size="13.3" fill="#131722" stroke="#131722" stroke-width="0.15">4,900.00</text>
<text x="1528" y="85" class="sf" font-size="13.3" fill="#131722" stroke="#131722" stroke-width="0.15">4,800.00</text>
<text x="1528" y="133" class="sf" font-size="13.3" fill="#131722" stroke="#131722" stroke-width="0.15">4,700.00</text>
<text x="1528" y="182" class="sf" font-size="13.3" fill="#131722" stroke="#131722" stroke-width="0.15">4,600.00</text>
<text x="1528" y="230" class="sf" font-size="13.3" fill="#131722" stroke="#131722" stroke-width="0.15">4,500.00</text>
<text x="1528" y="279" class="sf" font-size="13.3" fill="#131722" stroke="#131722" stroke-width="0.15">4,400.00</text>
<text x="1528" y="327" class="sf" font-size="13.3" fill="#131722" stroke="#131722" stroke-width="0.15">4,300.00</text>
<text x="1528" y="520" class="sf" font-size="13.3" fill="#131722" stroke="#131722" stroke-width="0.15">3,900.00</text>
<text x="1528" y="569" class="sf" font-size="13.3" fill="#131722" stroke="#131722" stroke-width="0.15">3,800.00</text>
<text x="1528" y="617" class="sf" font-size="13.3" fill="#131722" stroke="#131722" stroke-width="0.15">3,700.00</text>
<text x="1528" y="665" class="sf" font-size="13.3" fill="#131722" stroke="#131722" stroke-width="0.15">3,600.00</text>
<text x="1528" y="714" class="sf" font-size="13.3" fill="#131722" stroke="#131722" stroke-width="0.15">3,500.00</text>
<text x="1528" y="762" class="sf" font-size="13.3" fill="#131722" stroke="#131722" stroke-width="0.15">3,400.00</text>
<text transform="translate(12.5,783) scale(0.92,1)" x="0" y="0" font-size="12" fill="#131722" text-anchor="middle">26</text>
<text transform="translate(80.5,783) scale(0.92,1)" x="0" y="0" font-size="12" fill="#131722" text-anchor="middle">27</text>
<text transform="translate(149.5,783) scale(0.92,1)" x="0" y="0" font-size="12" fill="#131722" text-anchor="middle">28</text>
<text transform="translate(218.5,783) scale(0.92,1)" x="0" y="0" font-size="12" fill="#131722" text-anchor="middle">29</text>
<text transform="translate(287.5,783) scale(0.92,1)" x="0" y="0" font-size="12" fill="#131722" text-anchor="middle">30</text>
<text transform="translate(355.5,783) scale(1.0,1)" x="0" y="0" font-size="12" fill="#131722" text-anchor="middle">Oct</text>
<text transform="translate(424.5,783) scale(0.92,1)" x="0" y="0" font-size="12" fill="#131722" text-anchor="middle">2</text>
<text transform="translate(493.5,783) scale(0.92,1)" x="0" y="0" font-size="12" fill="#131722" text-anchor="middle">3</text>
<text transform="translate(562.5,783) scale(0.92,1)" x="0" y="0" font-size="12" fill="#131722" text-anchor="middle">4</text>
<text transform="translate(631.5,783) scale(0.92,1)" x="0" y="0" font-size="12" fill="#131722" text-anchor="middle">5</text>
<text transform="translate(699.5,783) scale(0.92,1)" x="0" y="0" font-size="12" fill="#131722" text-anchor="middle">6</text>
<text transform="translate(768.5,783) scale(0.92,1)" x="0" y="0" font-size="12" fill="#131722" text-anchor="middle">7</text>
<text transform="translate(837.5,783) scale(0.92,1)" x="0" y="0" font-size="12" fill="#131722" text-anchor="middle">8</text>
<text transform="translate(906.5,783) scale(0.92,1)" x="0" y="0" font-size="12" fill="#131722" text-anchor="middle">9</text>
<text transform="translate(974.5,783) scale(0.92,1)" x="0" y="0" font-size="12" fill="#131722" text-anchor="middle">10</text>
<text transform="translate(1043.5,783) scale(0.92,1)" x="0" y="0" font-size="12" fill="#131722" text-anchor="middle">11</text>
<text transform="translate(1112.5,783) scale(0.92,1)" x="0" y="0" font-size="12" fill="#131722" text-anchor="middle">12</text>
<text transform="translate(1181.5,783) scale(0.92,1)" x="0" y="0" font-size="12" fill="#131722" text-anchor="middle">13</text>
<text transform="translate(1250.5,783) scale(0.92,1)" x="0" y="0" font-size="12" fill="#131722" text-anchor="middle">14</text>
<text transform="translate(1318.5,783) scale(0.92,1)" x="0" y="0" font-size="12" fill="#131722" text-anchor="middle">15</text>
<text transform="translate(1387.5,783) scale(0.92,1)" x="0" y="0" font-size="12" fill="#131722" text-anchor="middle">16</text>
<text transform="translate(1456.5,783) scale(0.92,1)" x="0" y="0" font-size="12" fill="#131722" text-anchor="middle">17</text>
<rect x="0" y="766" width="9" height="25" fill="#fff"/>
<rect x="9" y="766" width="1" height="26" fill="#f3f3f3"/>
<path d="M1520,364 H1578.5 Q1580,364 1580,365.5 V379.5 Q1580,381 1578.5,381 H1520 Z" fill="#2962FF"/>
<text x="1528" y="376" class="sf" font-size="13.3" fill="#fff" stroke="#fff" stroke-width="0.35">4,074.45</text>
<path d="M1520,381 H1578.5 Q1580,381 1580,382.5 V396.5 Q1580,398 1578.5,398 H1520 Z" fill="#A5D6A7"/>
<text x="1528" y="393" class="sf" font-size="13.3" fill="#131722" stroke="#131722" stroke-width="0.15">4,035.79</text>
<path d="M1520,398 H1578.5 Q1580,398 1580,399.5 V413.5 Q1580,415 1578.5,415 H1520 Z" fill="#EF9A9A"/>
<text x="1528" y="410" class="sf" font-size="13.3" fill="#131722" stroke="#131722" stroke-width="0.15">4,034.95</text>
<path d="M1520,415 H1578.5 Q1580,415 1580,416.5 V444.5 Q1580,446 1578.5,446 H1520 Z" fill="#3179F5"/>
<text x="1528" y="427" class="sf" font-size="13.3" fill="#fff" stroke="#fff" stroke-width="0.35">4,028.62</text>
<text x="1528" y="441" class="sf" font-size="13.3" fill="#d6e4fd" stroke="#d6e4fd" stroke-width="0.35">03:36:45</text>
<path d="M1520,446 H1578.5 Q1580,446 1580,447.5 V461.5 Q1580,463 1578.5,463 H1520 Z" fill="#43A047"/>
<text x="1528" y="458" class="sf" font-size="13.3" fill="#fff" stroke="#fff" stroke-width="0.35">4,028.62</text>
<path d="M1520,463 H1578.5 Q1580,463 1580,464.5 V478.5 Q1580,480 1578.5,480 H1520 Z" fill="#B71C1C"/>
<text x="1528" y="475" class="sf" font-size="13.3" fill="#fff" stroke="#fff" stroke-width="0.35">3,997.14</text>
<text x="18.2" y="46" font-size="12" fill="#131722" textLength="206.3" lengthAdjust="spacingAndGlyphs">Ethereum / U.S. Dollar · 4h · Coinbase</text>
<text x="232.8" y="46" font-size="12" fill="#131722" textLength="8.2" lengthAdjust="spacingAndGlyphs">O</text>
<text x="241.3" y="46" font-size="12" fill="#3179F5" textLength="45.4" lengthAdjust="spacingAndGlyphs">4,016.69</text>
<text x="294.6" y="46" font-size="12" fill="#131722" textLength="7.8" lengthAdjust="spacingAndGlyphs">H</text>
<text x="302.7" y="46" font-size="12" fill="#3179F5" textLength="45.8" lengthAdjust="spacingAndGlyphs">4,033.29</text>
<text x="356.7" y="46" font-size="12" fill="#131722" textLength="5.3" lengthAdjust="spacingAndGlyphs">L</text>
<text x="362.3" y="46" font-size="12" fill="#3179F5" textLength="46.0" lengthAdjust="spacingAndGlyphs">4,014.34</text>
<text x="416.0" y="46" font-size="12" fill="#131722" textLength="7.0" lengthAdjust="spacingAndGlyphs">C</text>
<text x="423.2" y="46" font-size="12" fill="#3179F5" textLength="46.0" lengthAdjust="spacingAndGlyphs">4,028.62</text>
<text x="477.5" y="46" font-size="12" fill="#3179F5" textLength="84.2" lengthAdjust="spacingAndGlyphs">+11.93 (+0.30%)</text>
<text x="18.2" y="63.5" font-size="12" fill="#131722" textLength="127.8" lengthAdjust="spacingAndGlyphs">Ichimoku (9, 26, 52, 26)</text>
<text x="154.1" y="63.5" font-size="12" fill="#2962FF" textLength="46.1" lengthAdjust="spacingAndGlyphs">4,074.45</text>
<text x="207.7" y="63.5" font-size="12" fill="#B71C1C" textLength="46.5" lengthAdjust="spacingAndGlyphs">3,997.14</text>
<text x="261.9" y="63.5" font-size="12" fill="#43A047" textLength="46.1" lengthAdjust="spacingAndGlyphs">4,028.62</text>
<text x="315.5" y="63.5" font-size="12" fill="#A5D6A7" textLength="46.5" lengthAdjust="spacingAndGlyphs">4,035.79</text>
<text x="369.1" y="63.5" font-size="12" fill="#EF9A9A" textLength="46.4" lengthAdjust="spacingAndGlyphs">4,034.95</text>
<path d="M1408.24,749.43 A9.3,9.3 0 0,1 1392.60,758.64 M1390.34,750.21 A9.3,9.3 0 0,1 1402.43,743.51" fill="none" stroke="#9C27B0" stroke-width="1.5"/>
<polyline points="1401.9,747.6 1396.0,752.4 1403.0,752.4 1396.4,757.5" fill="none" stroke="#9C27B0" stroke-width="1.6" stroke-linejoin="miter" stroke-linecap="round"/>
<path d="M1388.9,751.2 Q1389.4,755.2 1393.5,755.7 Q1389.4,756.2 1388.9,760.3 Q1388.4,756.2 1384.3,755.7 Q1388.4,755.2 1388.9,751.2Z" fill="#7050FF"/>
<circle cx="1406.4" cy="745.5" r="2.5" fill="#F23645"/>
<circle cx="1422.0" cy="751.9" r="10.1" fill="#fff" stroke="#F23645" stroke-width="1.6"/>
<clipPath id="fc1422"><circle cx="1422.0" cy="751.9" r="7.9"/></clipPath>
<g clip-path="url(#fc1422)"><rect x="1414.0" y="743.9" width="16" height="16" fill="#fff"/><rect x="1414.0" y="743.9" width="16" height="3.5" fill="#EF4444"/><rect x="1414.0" y="750.0" width="16" height="3.9" fill="#EF4444"/><rect x="1414.0" y="756.0" width="16" height="4" fill="#EF4444"/><rect x="1414.0" y="743.9" width="10.2" height="10" fill="#2B7DE0"/></g>
<rect x="1415.7" y="745.9" width="1" height="0.9" fill="#dbe9fb"/>
<rect x="1418.3" y="745.9" width="1" height="0.9" fill="#dbe9fb"/>
<rect x="1420.9" y="745.9" width="1" height="0.9" fill="#dbe9fb"/>
<rect x="1415.7" y="748.5" width="1" height="0.9" fill="#dbe9fb"/>
<rect x="1418.3" y="748.5" width="1" height="0.9" fill="#dbe9fb"/>
<rect x="1420.9" y="748.5" width="1" height="0.9" fill="#dbe9fb"/>
<rect x="1415.7" y="751.1" width="1" height="0.9" fill="#dbe9fb"/>
<rect x="1418.3" y="751.1" width="1" height="0.9" fill="#dbe9fb"/>
<rect x="1420.9" y="751.1" width="1" height="0.9" fill="#dbe9fb"/>
<circle cx="1490.0" cy="751.9" r="10.1" fill="#fff" stroke="#F23645" stroke-width="1.6"/>
<clipPath id="fc1490"><circle cx="1490.0" cy="751.9" r="7.9"/></clipPath>
<g clip-path="url(#fc1490)"><rect x="1482.0" y="743.9" width="16" height="16" fill="#fff"/><rect x="1482.0" y="743.9" width="16" height="3.5" fill="#EF4444"/><rect x="1482.0" y="750.0" width="16" height="3.9" fill="#EF4444"/><rect x="1482.0" y="756.0" width="16" height="4" fill="#EF4444"/><rect x="1482.0" y="743.9" width="10.2" height="10" fill="#2B7DE0"/></g>
<rect x="1483.7" y="745.9" width="1" height="0.9" fill="#dbe9fb"/>
<rect x="1486.3" y="745.9" width="1" height="0.9" fill="#dbe9fb"/>
<rect x="1488.9" y="745.9" width="1" height="0.9" fill="#dbe9fb"/>
<rect x="1483.7" y="748.5" width="1" height="0.9" fill="#dbe9fb"/>
<rect x="1486.3" y="748.5" width="1" height="0.9" fill="#dbe9fb"/>
<rect x="1488.9" y="748.5" width="1" height="0.9" fill="#dbe9fb"/>
<rect x="1483.7" y="751.1" width="1" height="0.9" fill="#dbe9fb"/>
<rect x="1486.3" y="751.1" width="1" height="0.9" fill="#dbe9fb"/>
<rect x="1488.9" y="751.1" width="1" height="0.9" fill="#dbe9fb"/>
<g fill="#131722">
<path d="M12,815 H24 V830 H18.2 V821.4 H12 Z"/>
<circle cx="29.6" cy="818.2" r="2.9"/>
<path d="M33.3,815 H41.8 L37.6,830 H29.1 Z"/>
<text x="48.5" y="830" font-size="20.6" font-weight="700">TradingView</text>
</g>
</svg></body></html>
